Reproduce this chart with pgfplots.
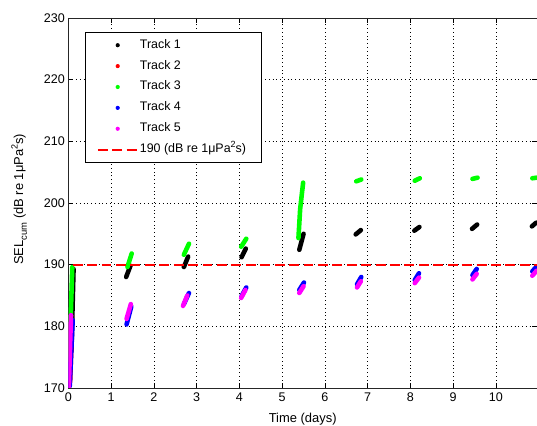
\documentclass[border=0pt]{standalone}
\usepackage{fontspec}
\setmainfont{Liberation Sans}
\usepackage{pgfplots}
\pgfplotsset{compat=1.18}
\definecolor{mag}{rgb}{1,0,1}
\definecolor{grn}{rgb}{0,1,0}
\definecolor{blu}{rgb}{0,0,1}
\definecolor{rd}{rgb}{1,0,0}
\pgfplotsset{
  trk/.style={line width=4.6pt, line cap=round, line join=round,
    legend image code/.code={\path (0pt,0pt) (40pt,0pt);\fill[##1, draw=none] (20pt,0pt) circle (2.1pt);}},
  dashleg/.style={legend image code/.code={\draw[##1] (0pt,0pt) -- (40pt,0pt);}},
}
\newcommand{\mysup}[1]{\raisebox{0.42em}{\fontsize{9}{9}\selectfont #1}}
\newcommand{\mysub}[1]{\raisebox{-0.3em}{\fontsize{9.5}{9}\selectfont #1}}
\begin{document}
\newcommand{\fs}{\fontsize{12.6}{14}\selectfont}
\begin{tikzpicture}
\begin{axis}[
  scale only axis, width=471pt, height=372pt,
  xmin=0, xmax=10.96, ymin=170, ymax=230,
  xtick={0,1,...,10}, ytick={170,180,...,230},
  /pgf/number format/assume math mode=true,
  tick label style={font=\fs},
  xticklabel style={yshift=-1.5pt},
  label style={font=\fontsize{13}{15}\selectfont},
  tick align=inside, major tick length=5pt,
  tick style={black, line width=0.5pt},
  axis line style={black!85, line width=0.7pt},
  grid=major,
  major grid style={black, line width=0.5pt, dash pattern=on 0.8pt off 3pt},
  unbounded coords=jump,
  xlabel={Time (days)},
  ylabel={SEL\mysub{cum} (dB re 1μPa\mysup{2}s)},
  xlabel style={at={(axis description cs:0.5,-0.083)}, anchor=center},
  ylabel style={at={(axis description cs:-0.105,0.51)}, anchor=center},
  legend cell align=left,
  legend style={at={(axis description cs:0.036,0.962)}, anchor=north west,
    draw=black, fill=white, line width=0.6pt, font=\fontsize{12.5}{14}\selectfont,
    inner xsep=10pt, inner ysep=7pt, row sep=9pt,
    nodes={inner sep=0pt, text height=9pt, text depth=3pt}},
]
% Track 1
\addplot[black, trk] table {
x y
0.07 176.0
0.12 189.3
nan nan
1.35 188.0
1.45 189.8
nan nan
2.70 189.6
2.80 191.3
nan nan
4.05 191.2
4.15 192.6
nan nan
5.40 192.4
5.50 195.0
nan nan
6.72 194.9
6.84 195.6
nan nan
8.09 195.5
8.21 196.1
nan nan
9.44 195.8
9.56 196.5
nan nan
10.84 196.2
10.94 196.8
};
\addlegendentry{Track 1}
% Track 2
\addplot[rd, trk] table {
x y
0.04 171.0
0.08 179.0
};
\addlegendentry{Track 2}
% Track 3
\addplot[grn, trk] table {
x y
0.01 171.5
0.09 189.6
nan nan
1.38 189.6
1.48 191.8
nan nan
2.70 191.6
2.82 193.4
nan nan
4.04 192.9
4.16 194.2
nan nan
5.38 194.3
5.42 199.0
5.49 203.3
nan nan
6.73 203.5
6.85 203.8
nan nan
8.10 203.6
8.22 204.0
nan nan
9.45 203.9
9.57 204.1
nan nan
10.85 204.0
10.95 204.1
};
\addlegendentry{Track 3}
% Track 4
\addplot[blu, trk] table {
x y
0.03 170.3
0.10 181.0
nan nan
1.36 180.3
1.47 183.2
nan nan
2.70 183.6
2.82 185.4
nan nan
4.05 184.9
4.16 186.3
nan nan
5.40 185.9
5.51 187.1
nan nan
6.75 186.8
6.85 188.0
nan nan
8.10 187.5
8.20 188.6
nan nan
9.45 188.3
9.55 189.3
nan nan
10.85 188.9
10.95 189.7
};
\addlegendentry{Track 4}
% Track 5
\addplot[mag, trk] table {
x y
0.01 170.2
0.06 181.8
nan nan
1.36 181.2
1.46 183.6
nan nan
2.68 183.3
2.78 185.0
nan nan
4.04 184.6
4.14 185.9
nan nan
5.40 185.4
5.50 186.5
nan nan
6.75 186.3
6.84 187.3
nan nan
8.10 187.0
8.20 187.9
nan nan
9.45 187.6
9.55 188.5
nan nan
10.85 188.2
10.95 189.0
};
\addlegendentry{Track 5}
\addplot[rd, line width=1.8pt, dash pattern=on 10pt off 4.5pt, dashleg]
  coordinates {(0.1,190) (10.96,190)};
\addlegendentry{190 (dB re 1μPa\mysup{2}s)\hspace*{5pt}}
\end{axis}
\path (current axis.south west) ++(-66pt,-38pt) coordinate (bbA);
\path (current axis.north east) ++(0pt,18pt) coordinate (bbB);
\pgfresetboundingbox
\path[use as bounding box] (bbA) rectangle (bbB);
\end{tikzpicture}
\end{document}
